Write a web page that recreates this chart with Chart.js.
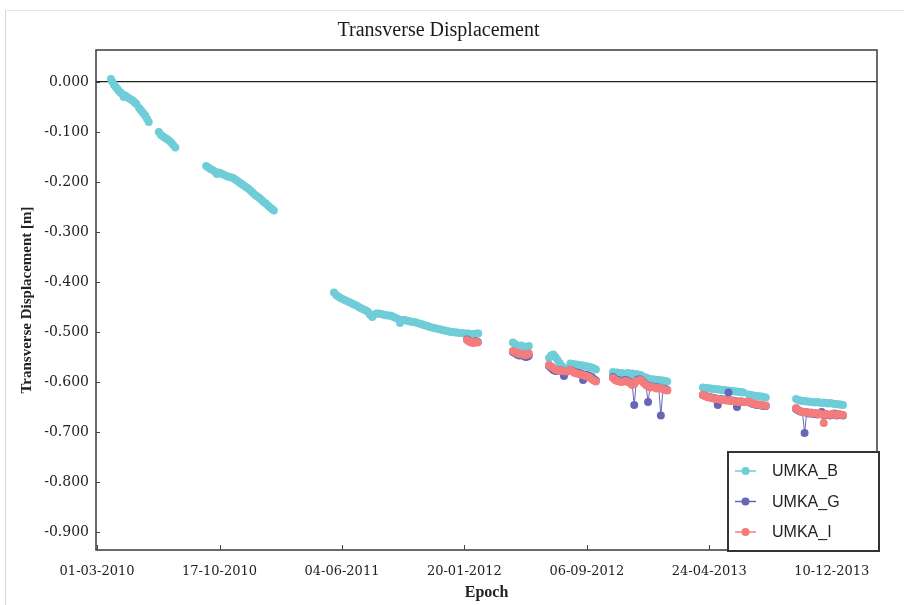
<!DOCTYPE html>
<html>
<head>
<meta charset="utf-8">
<script src="https://cdn.jsdelivr.net/npm/chart.js@4.4.1/dist/chart.umd.min.js"></script>
<style>
html, body { margin: 0; padding: 0; background: #fff; }
#wrap { position: relative; width: 904px; height: 605px; overflow: hidden; }
#edge { position: absolute; left: 5px; top: 10px; right: 0; bottom: 0; border-left: 1px solid #d6d6d6; border-top: 1px solid #e6e6e6; }
canvas { position: absolute; left: 0; top: 0; }
</style>
</head>
<body>
<div id="wrap"><div id="edge"></div><canvas id="chart" width="904" height="605"></canvas></div>
<script>
// x values are days since 01-03-2010
var xTickDays = [0, 230, 460, 690, 920, 1150, 1380];
var xTickLabels = ['01-03-2010', '17-10-2010', '04-06-2011', '20-01-2012', '06-09-2012', '24-04-2013', '10-12-2013'];
var yTickValues = [0, -0.1, -0.2, -0.3, -0.4, -0.5, -0.6, -0.7, -0.8, -0.9];

var seriesNames = ['UMKA_B', 'UMKA_G', 'UMKA_I'];
var seriesColors = ['#6fcdd8', '#6767b5', '#f47c7c'];

var daysB = [
  26, 29, 32, 35, 38, 41, 44, 47, 50, 53, 56, 59, 62, 65, 68, 71, 74,
  79, 82, 85, 88, 91, 94, 97,
  116, 120, 124, 128, 131, 135, 139, 143, 147,
  205, 209, 213, 217, 221, 225, 229, 233, 237, 241, 245, 249, 253, 257, 261, 265, 269, 273, 277, 281, 285, 289, 293, 297, 301, 305, 309, 313, 317, 321, 325, 329, 332,
  445, 449, 453, 457, 461, 465, 469, 473, 477, 481, 485, 489, 493, 497, 501, 505, 509, 513, 517, 521, 525, 529, 533, 537, 541, 545, 549, 553, 557, 561, 565, 569, 573, 577, 581, 585, 589, 593, 597, 601, 605, 609, 613, 617, 621, 625, 629, 633, 637, 641, 645, 649, 653, 657, 661, 665, 669, 673, 677, 681, 685, 689, 693, 697, 701, 705, 709, 713, 716,
  781, 785, 789, 793, 797, 801, 805, 809, 811,
  849, 853, 857, 861, 865, 869, 873, 877, 881,
  889, 893, 897, 901, 905, 909, 913, 917, 921, 925, 929, 933, 937,
  969, 973, 977, 981, 985, 989, 993, 997, 1001, 1005, 1009, 1013, 1017, 1021,
  1027, 1031, 1035, 1039, 1043, 1047, 1051, 1055, 1059, 1063, 1067, 1071,
  1138, 1142, 1146, 1150, 1154, 1158, 1162, 1166, 1170, 1174, 1178, 1182, 1186, 1190, 1194, 1198, 1202, 1206, 1210, 1214,
  1224, 1228, 1232, 1236, 1240, 1244, 1248, 1252, 1256,
  1313, 1317, 1321, 1325, 1329, 1333, 1337, 1341, 1345, 1349, 1353, 1357, 1361, 1365, 1369, 1373, 1377, 1381, 1385, 1389, 1393, 1397, 1401
];
var umkaB = [
  0.006, 0.000, -0.006, -0.010, -0.014, -0.018, -0.021, -0.024, -0.030, -0.027, -0.030, -0.032, -0.034, -0.036, -0.038, -0.041, -0.044,
  -0.052, -0.056, -0.060, -0.064, -0.068, -0.074, -0.080,
  -0.100, -0.106, -0.109, -0.112, -0.114, -0.117, -0.121, -0.126, -0.131,
  -0.168, -0.171, -0.174, -0.176, -0.179, -0.184, -0.181, -0.183, -0.185, -0.187, -0.189, -0.190, -0.191, -0.193, -0.196, -0.199, -0.202, -0.205, -0.208, -0.211, -0.214, -0.218, -0.222, -0.226, -0.229, -0.232, -0.236, -0.240, -0.243, -0.247, -0.251, -0.254, -0.257,
  -0.421, -0.426, -0.429, -0.432, -0.434, -0.436, -0.438, -0.440, -0.442, -0.444, -0.446, -0.448, -0.451, -0.453, -0.455, -0.457, -0.460, -0.466, -0.470, -0.465, -0.463, -0.463, -0.464, -0.465, -0.466, -0.467, -0.467, -0.468, -0.470, -0.472, -0.474, -0.482, -0.476, -0.476, -0.477, -0.478, -0.479, -0.480, -0.480, -0.482, -0.483, -0.484, -0.486, -0.487, -0.488, -0.490, -0.491, -0.492, -0.493, -0.494, -0.495, -0.496, -0.497, -0.498, -0.499, -0.500, -0.500, -0.501, -0.501, -0.502, -0.502, -0.503, -0.503, -0.503, -0.504, -0.504, -0.504, -0.503, -0.503,
  -0.521, -0.524, -0.527, -0.528, -0.527, -0.529, -0.530, -0.530, -0.528,
  -0.552, -0.547, -0.545, -0.550, -0.556, -0.562, -0.568, -0.572, -0.573,
  -0.563, -0.564, -0.565, -0.565, -0.566, -0.567, -0.567, -0.568, -0.569, -0.570, -0.571, -0.573, -0.575,
  -0.580, -0.582, -0.581, -0.583, -0.582, -0.584, -0.583, -0.582, -0.584, -0.583, -0.585, -0.584, -0.586, -0.586,
  -0.590, -0.591, -0.593, -0.594, -0.595, -0.595, -0.596, -0.596, -0.597, -0.597, -0.598, -0.599,
  -0.611, -0.612, -0.612, -0.613, -0.613, -0.614, -0.614, -0.615, -0.615, -0.616, -0.616, -0.617, -0.617, -0.618, -0.618, -0.619, -0.619, -0.620, -0.620, -0.621,
  -0.625, -0.626, -0.627, -0.628, -0.628, -0.629, -0.629, -0.630, -0.631,
  -0.634, -0.636, -0.637, -0.638, -0.638, -0.639, -0.639, -0.640, -0.640, -0.641, -0.640, -0.641, -0.642, -0.641, -0.642, -0.643, -0.642, -0.643, -0.644, -0.644, -0.645, -0.645, -0.646
];

// UMKA_G and UMKA_I share the same epochs
var daysGI = [
  695, 699, 703, 707, 711, 715,
  781, 785, 789, 793, 797, 801, 805, 809, 811,
  849, 853, 857, 861, 865, 869, 873, 877, 881,
  889, 893, 897, 901, 905, 909, 913, 917, 921, 925, 929, 933, 937,
  969, 973, 977, 981, 985, 989, 993, 997, 1001, 1005, 1009, 1013, 1017, 1021,
  1027, 1031, 1035, 1039, 1043, 1047, 1051, 1055, 1059, 1063, 1067, 1071,
  1138, 1142, 1146, 1150, 1154, 1158, 1162, 1166, 1170, 1174, 1178, 1182, 1186, 1190, 1194, 1198, 1202, 1206, 1210, 1214,
  1224, 1228, 1232, 1236, 1240, 1244, 1248, 1252, 1256,
  1313, 1317, 1321, 1325, 1329, 1333, 1337, 1341, 1345, 1349, 1353, 1357, 1361, 1365, 1369, 1373, 1377, 1381, 1385, 1389, 1393, 1397, 1401
];
var umkaG = [
  -0.515, -0.518, -0.520, -0.521, -0.518, -0.520,
  -0.540, -0.542, -0.545, -0.547, -0.546, -0.548, -0.550, -0.549, -0.547,
  -0.568, -0.572, -0.576, -0.578, -0.578, -0.577, -0.577, -0.588, -0.580,
  -0.576, -0.578, -0.580, -0.581, -0.582, -0.583, -0.596, -0.585, -0.586, -0.588, -0.590, -0.594, -0.597,
  -0.590, -0.594, -0.596, -0.597, -0.598, -0.597, -0.596, -0.598, -0.600, -0.604, -0.646, -0.597, -0.595, -0.595,
  -0.601, -0.605, -0.640, -0.609, -0.609, -0.610, -0.611, -0.611, -0.667, -0.613, -0.614, -0.616,
  -0.626, -0.628, -0.629, -0.630, -0.631, -0.632, -0.633, -0.646, -0.634, -0.635, -0.635, -0.636, -0.621, -0.637, -0.637, -0.638, -0.650, -0.639, -0.639, -0.640,
  -0.640, -0.642, -0.644, -0.645, -0.646, -0.646, -0.647, -0.648, -0.648,
  -0.654, -0.657, -0.659, -0.660, -0.702, -0.661, -0.663, -0.662, -0.664, -0.663, -0.665, -0.664, -0.660, -0.666, -0.665, -0.666, -0.667, -0.665, -0.663, -0.667, -0.665, -0.666, -0.667
];
var umkaI = [
  -0.516, -0.519, -0.521, -0.522, -0.519, -0.521,
  -0.538, -0.540, -0.542, -0.544, -0.543, -0.545, -0.546, -0.545, -0.543,
  -0.566, -0.569, -0.572, -0.575, -0.577, -0.578, -0.577, -0.578, -0.579,
  -0.576, -0.579, -0.582, -0.583, -0.584, -0.585, -0.586, -0.588, -0.589, -0.591, -0.594, -0.597, -0.599,
  -0.592, -0.596, -0.598, -0.599, -0.600, -0.599, -0.598, -0.600, -0.602, -0.606, -0.604, -0.598, -0.597, -0.596,
  -0.602, -0.606, -0.609, -0.611, -0.610, -0.611, -0.613, -0.612, -0.613, -0.614, -0.616, -0.617,
  -0.626, -0.628, -0.630, -0.631, -0.632, -0.633, -0.634, -0.634, -0.635, -0.636, -0.636, -0.637, -0.637, -0.638, -0.638, -0.639, -0.639, -0.640, -0.639, -0.640,
  -0.639, -0.641, -0.643, -0.644, -0.645, -0.645, -0.646, -0.647, -0.647,
  -0.652, -0.656, -0.658, -0.660, -0.661, -0.660, -0.662, -0.661, -0.663, -0.662, -0.664, -0.663, -0.665, -0.682, -0.664, -0.665, -0.666, -0.664, -0.665, -0.666, -0.664, -0.665, -0.666
];

// join points, break the line where observations stop
function buildPoints(days, vals) {
  var pts = [];
  for (var i = 0; i < days.length; i++) {
    if (i > 0 && days[i] - days[i - 1] > 12) {
      pts.push({ x: (days[i] + days[i - 1]) / 2, y: null });
    }
    pts.push({ x: days[i], y: vals[i] });
  }
  return pts;
}

function makeDataset(idx, days, vals, order, lineWidth) {
  return {
    label: seriesNames[idx],
    data: buildPoints(days, vals),
    borderColor: seriesColors[idx],
    backgroundColor: seriesColors[idx],
    pointBackgroundColor: seriesColors[idx],
    pointBorderWidth: 0,
    pointRadius: 4,
    borderWidth: lineWidth,
    showLine: true,
    spanGaps: false,
    order: order
  };
}

var serif = '"Liberation Serif", "DejaVu Serif", serif';
var tickFont = '"DejaVu Serif", serif';

var framePlugin = {
  id: 'frameAndLegend',
  afterDraw: function (chart) {
    var ctx = chart.ctx;
    var a = chart.chartArea;
    var xs = chart.scales.x, ys = chart.scales.y;
    ctx.save();
    ctx.strokeStyle = '#3a3a3a';
    ctx.lineWidth = 1.5;
    ctx.strokeRect(a.left, a.top, a.right - a.left, a.bottom - a.top);

    // short ticks pointing into the plot
    ctx.lineWidth = 1;
    ctx.strokeStyle = '#444';
    ys.ticks.forEach(function (t) {
      var py = Math.round(ys.getPixelForValue(t.value)) + 0.5;
      ctx.beginPath(); ctx.moveTo(a.left, py); ctx.lineTo(a.left + 4, py); ctx.stroke();
    });
    xs.ticks.forEach(function (t) {
      var px = Math.round(xs.getPixelForValue(t.value)) + 0.5;
      ctx.beginPath(); ctx.moveTo(px, a.bottom); ctx.lineTo(px, a.bottom - 5); ctx.stroke();
    });

    // legend box in the lower right corner
    var bx = 728, by = 452, bw = 151, bh = 99;
    ctx.fillStyle = '#fff';
    ctx.fillRect(bx, by, bw, bh);
    ctx.lineWidth = 2;
    ctx.strokeStyle = '#333';
    ctx.strokeRect(bx, by, bw, bh);
    ctx.font = '16px "Liberation Sans", Arial, sans-serif';
    ctx.textBaseline = 'middle';
    ctx.textAlign = 'left';
    for (var i = 0; i < seriesNames.length; i++) {
      var cy = by + 19 + i * 30.5;
      ctx.strokeStyle = seriesColors[i];
      ctx.lineWidth = 1.5;
      ctx.beginPath(); ctx.moveTo(bx + 7, cy); ctx.lineTo(bx + 28, cy); ctx.stroke();
      ctx.fillStyle = seriesColors[i];
      ctx.beginPath(); ctx.arc(bx + 17.5, cy, 4, 0, Math.PI * 2); ctx.fill();
      ctx.fillStyle = '#222';
      ctx.fillText(seriesNames[i], bx + 44, cy + 1);
    }
    ctx.restore();
  }
};

new Chart(document.getElementById('chart').getContext('2d'), {
  type: 'scatter',
  data: {
    datasets: [
      makeDataset(0, daysB, umkaB, 2, 1.4),
      makeDataset(1, daysGI, umkaG, 1, 1),
      makeDataset(2, daysGI, umkaI, 0, 1.4)
    ]
  },
  options: {
    responsive: false,
    animation: false,
    layout: { padding: { left: 0, right: 27, top: 0, bottom: 0 } },
    plugins: {
      legend: { display: false },
      tooltip: { enabled: false },
      title: {
        display: true,
        text: 'Transverse Displacement',
        color: '#1a1a1a',
        font: { family: serif, size: 20, weight: 'normal' },
        padding: { top: 19, bottom: 7 }
      }
    },
    scales: {
      x: {
        type: 'linear',
        min: -2,
        max: 1465,
        afterBuildTicks: function (scale) {
          scale.ticks = xTickDays.map(function (d) { return { value: d }; });
        },
        afterFit: function (scale) { scale.height = 55; },
        ticks: {
          autoSkip: false,
          maxRotation: 0,
          padding: 14,
          color: '#222',
          font: { family: tickFont, size: 13 },
          callback: function (v) { return xTickLabels[xTickDays.indexOf(v)]; }
        },
        grid: { display: false, drawTicks: false },
        border: { display: false },
        title: {
          display: true,
          text: 'Epoch',
          color: '#222',
          font: { family: serif, size: 16, weight: 'bold' },
          padding: { top: 0, bottom: 3 }
        }
      },
      y: {
        type: 'linear',
        min: -0.936,
        max: 0.064,
        afterBuildTicks: function (scale) {
          scale.ticks = yTickValues.map(function (v) { return { value: v }; });
        },
        afterFit: function (scale) { scale.width = 96; },
        ticks: {
          padding: 7,
          color: '#222',
          font: { family: tickFont, size: 14 },
          callback: function (v) { return v.toFixed(3); }
        },
        grid: {
          drawTicks: false,
          lineWidth: 1.2,
          color: function (c) { return c.tick && c.tick.value === 0 ? '#222' : 'rgba(0,0,0,0)'; }
        },
        border: { display: false },
        title: {
          display: true,
          text: 'Transverse Displacement [m]',
          color: '#222',
          font: { family: serif, size: 15, weight: 'bold' },
          padding: { top: 18, bottom: 0 }
        }
      }
    }
  },
  plugins: [framePlugin]
});
</script>
</body>
</html>
